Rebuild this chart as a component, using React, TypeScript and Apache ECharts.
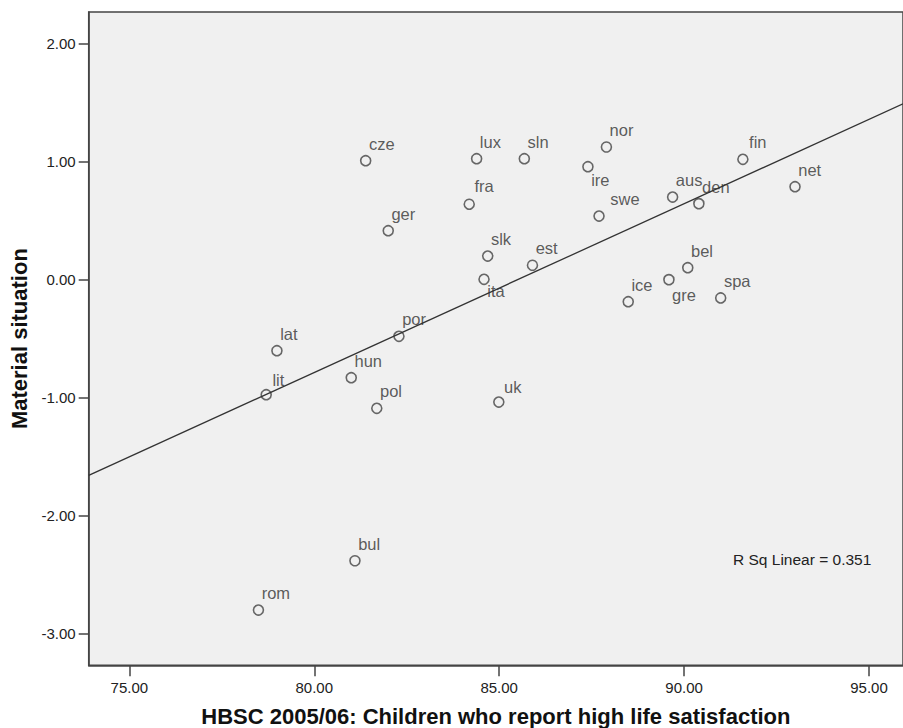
import React, { useEffect, useRef } from "react";
import * as echarts from "echarts";

const countries = ["cze","lux","sln","fra","ger","slk","ita","est","nor","ire","swe","aus","den","fin","net","bel","gre","ice","spa","lat","lit","por","hun","pol","uk","bul","rom"];
const lifeSatisfaction = [81.39,84.39,85.68,84.19,82.0,84.69,84.59,85.9,87.9,87.4,87.7,89.69,90.4,91.59,93.0,90.1,89.59,88.49,90.99,78.99,78.7,82.29,81.0,81.69,84.99,81.1,78.49];
const materialSituation = [1.005,1.022,1.022,0.636,0.412,0.197,0.0,0.119,1.121,0.954,0.536,0.697,0.641,1.017,0.785,0.098,-0.003,-0.19,-0.158,-0.605,-0.978,-0.483,-0.834,-1.093,-1.04,-2.385,-2.803];
const xTicks = [75, 80, 85, 90, 95];
const yTicks = [-3, -2, -1, 0, 1, 2];
const rSqText = "R Sq Linear = 0.351";
const xTitle = "HBSC 2005/06: Children who report high life satisfaction";
const yTitle = "Material situation";

const X_MIN = 73.9;
const X_MAX = 95.92;
const Y_MIN = -3.271;
const Y_MAX = 2.265;

const labelOffset: Record<string, [number, number]> = {
  ita: [4, 13], ire: [4, 14], gre: [4, 16], swe: [12, -16], fin: [7, -16],
  lit: [7, -14], uk: [6, -14], fra: [6, -17],
};

const FONT = "'Liberation Sans', Arial, sans-serif";

export default function App() {
  const ref = useRef<HTMLDivElement>(null);
  useEffect(() => {
    if (!ref.current) return;
    document.body.style.margin = "0";
    const chart = echarts.init(ref.current, null, { renderer: "svg" });
    const n = lifeSatisfaction.length;
    const mx = lifeSatisfaction.reduce((a, b) => a + b, 0) / n;
    const my = materialSituation.reduce((a, b) => a + b, 0) / n;
    let sxy = 0, sxx = 0;
    for (let i = 0; i < n; i++) {
      sxy += (lifeSatisfaction[i] - mx) * (materialSituation[i] - my);
      sxx += (lifeSatisfaction[i] - mx) ** 2;
    }
    const slope = sxy / sxx;
    const icpt = my - slope * mx;
    const fit = [X_MIN, X_MAX].map((x) => [x, icpt + slope * x]);

    const points = countries.map((c, i) => {
      const off = labelOffset[c] || [4, -16];
      return {
        value: [lifeSatisfaction[i], materialSituation[i]],
        name: c,
        label: { position: [5 + off[0], 5 + off[1]] },
      };
    });

    chart.setOption({
      animation: false,
      backgroundColor: "#ffffff",
      grid: {
        left: 88.7, top: 12, right: 0, bottom: 62.7,
        outerBoundsMode: "none", containLabel: false,
        show: true, backgroundColor: "#f0f0f0", borderColor: "#444", borderWidth: 1.5,
      },
      xAxis: {
        type: "value", min: X_MIN, max: X_MAX,
        name: xTitle, nameLocation: "middle", nameGap: 40,
        nameTextStyle: { fontFamily: FONT, fontWeight: "bold", fontSize: 22, color: "#111" },
        axisLine: { show: true, onZero: false, lineStyle: { color: "#444", width: 1.5 } },
        axisTick: { show: true, length: 11, customValues: xTicks, lineStyle: { color: "#444", width: 1.5 } },
        axisLabel: { customValues: xTicks, formatter: (v: number) => v.toFixed(2), fontFamily: FONT, fontSize: 15, color: "#222", margin: 15 },
        splitLine: { show: false },
      },
      yAxis: {
        type: "value", min: Y_MIN, max: Y_MAX,
        name: yTitle, nameLocation: "middle", nameGap: 55, nameRotate: 90,
        nameTextStyle: { fontFamily: FONT, fontWeight: "bold", fontSize: 22, color: "#111" },
        axisLine: { show: true, onZero: false, lineStyle: { color: "#444", width: 1.5 } },
        axisTick: { show: true, length: 10, customValues: yTicks, lineStyle: { color: "#444", width: 1.5 } },
        axisLabel: { customValues: yTicks, formatter: (v: number) => v.toFixed(2), fontFamily: FONT, fontSize: 15, color: "#222", margin: 13 },
        splitLine: { show: false },
      },
      series: [
        {
          type: "line", data: fit, showSymbol: false, silent: true,
          lineStyle: { color: "#333", width: 1.3 },
        },
        {
          type: "scatter", data: points, symbol: "circle", symbolSize: 10,
          itemStyle: { color: "transparent", borderColor: "#444", borderWidth: 1.6 },
          label: {
            show: true, formatter: "{b}", align: "left", verticalAlign: "middle",
            fontFamily: FONT, fontSize: 16.5, color: "#333",
          },
        },
      ],
      graphic: [
        {
          type: "text", left: 733, top: 551,
          style: { text: rSqText, font: `15.5px ${FONT}`, fill: "#222" },
        },
      ],
    });
    return () => chart.dispose();
  }, []);
  return <div ref={ref} style={{ width: 903, height: 728 }} />;
}
